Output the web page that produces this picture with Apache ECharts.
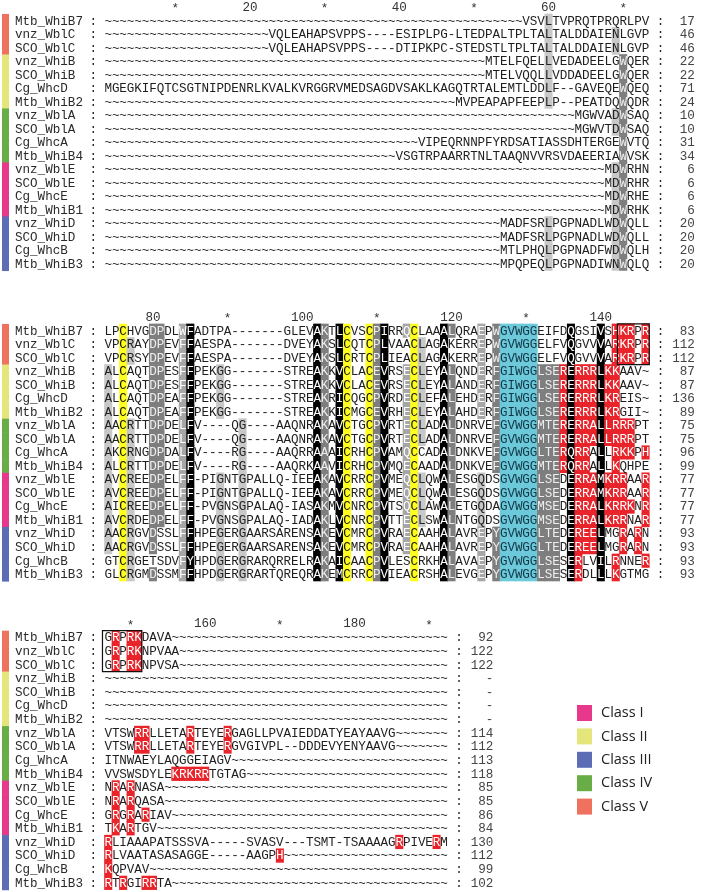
<!DOCTYPE html>
<html><head><meta charset="utf-8">
<script src="https://cdn.jsdelivr.net/npm/echarts@6/dist/echarts.min.js"></script>
<style>html,body{margin:0;padding:0;background:#fff}#c{width:709px;height:892px}</style>
</head><body><div id="c"></div>
<script>
// ---------------- DATA ----------------
const names = ['Mtb_WhiB7','vnz_WblC','SCO_WblC','vnz_WhiB','SCO_WhiB','Cg_WhcD','Mtb_WhiB2','vnz_WblA','SCO_WblA','Cg_WhcA','Mtb_WhiB4','vnz_WblE','SCO_WblE','Cg_WhcE','Mtb_WhiB1','vnz_WhiD','SCO_WhiD','Cg_WhcB','Mtb_WhiB3'];
const rowClass = ['Class V','Class V','Class V','Class II','Class II','Class II','Class II','Class IV','Class IV','Class IV','Class IV','Class I','Class I','Class I','Class I','Class III','Class III','Class III','Class III'];
const classNames = ['Class I','Class II','Class III','Class IV','Class V'];

const t = n => '~'.repeat(n);
const seq1 = [
  t(56)+'VSVLTVPRQTPRQRLPV',
  t(22)+'VQLEAHAPSVPPS----ESIPLPG-LTEDPALTPLTALTALDDAIENLGVP',
  t(22)+'VQLEAHAPSVPPS----DTIPKPC-STEDSTLTPLTALTALDDAIENLGVP',
  t(51)+'MTELFQELLVEDADEELGWQER',
  t(51)+'MTELVQQLLVDDADEELGWQER',
  'MGEGKIFQTCSGTNIPDENRLKVALKVRGGRVMEDSAGDVSAKLKAGQTRTALEMTLDDLF--GAVEQEWQEQ',
  t(47)+'MVPEAPAPFEEPLP--PEATDQWQDR',
  t(63)+'MGWVADWSAQ',
  t(63)+'MGWVTDWSAQ',
  t(42)+'VIPEQRNNPFYRDSATIASSDHTERGEWVTQ',
  t(39)+'VSGTRPAARRTNLTAAQNVVRSVDAEERIAWVSK',
  t(67)+'MDWRHN',
  t(67)+'MDWRHR',
  t(67)+'MDWRHE',
  t(67)+'MDWRHK',
  t(53)+'MADFSRLPGPNADLWDWQLL',
  t(53)+'MADFSRLPGPNADLWDWQLL',
  t(53)+'MTLPHQLPGPNADFWDWQLH',
  t(53)+'MPQPEQLPGPNADIWNWQLQ'
];
const seq2 = [
  'LPCHVGDPDLWFADTPA-------GLEVAKTLCVSCPIRRQCLAAALQRAEPWGVWGGEIFDQGSIVSHKRPR',
  'VPCRAYDPEVFFAESPA-------DVEYAKSLCQTCPLVAACLAGAKERREPWGVWGGELFVQGVVVARKRPR',
  'VPCRSYDPEVFFAESPA-------DVEYAKSLCRTCPLIEACLAGAKERREPWGVWGGELFVQGVVVARKRPR',
  'ALCAQTDPESFFPEKGG-------STREAKKVCLACEVRSECLEYALQNDERFGIWGGLSERERRRLKKAAV~',
  'ALCAQTDPESFFPEKGG-------STREAKKVCLACEVRSECLEYALANDERFGIWGGLSERERRRLKKAAV~',
  'ALCAQTDPEAFFPEKGG-------STREAKRICQGCPVRDECLEFALEHDERFGIWGGLSERERRRLKREIS~',
  'ALCAQTDPEAFFPEKGG-------STREAKKICMGCEVRHECLEYALAHDERFGIWGGLSERERRRLKRGII~',
  'AACRTTDPDELFV----QG----AAQNRAKAVCTGCPVRTECLADALDNRVEFGVWGGMTERERRALLRRRPT',
  'AACRTTDPDELFV----QG----AAQNRAKAVCTGCPVRTECLADALDNRVEFGVWGGMTERERRALLRRRPT',
  'AKCRNGDPDALFV----RG----AAQRRAAAICRHCPVAMQCCADALDNKVEFGVWGGLTERQRRALLRKKPH',
  'ALCRTTDPDELFV----RG----AAQRKAAVICRHCPVMQECAADALDNKVEFGVWGGMTERQRRALLKQHPE',
  'AVCREEDPELFF-PIGNTGPALLQ-IEEAKAVCRRCPVMEQCLQWALESGQDSGVWGGLSEDERRAMKRRAAR',
  'AVCREEDPELFF-PIGNTGPALLQ-IEEAKAVCRRCPVMEQCLQWALESGQDSGVWGGLSEDERRAMKRRAAR',
  'AICREEDPELFF-PVGNSGPALAQ-IASAKMVCNRCPVTSQCLAWALETGQDAGVWGGMSEDERRALKRRKNR',
  'AVCRDEDPELFF-PVGNSGPALAQ-IADAKLVCNRCPVTTECLSWALNTGQDSGVWGGMSEDERRALKRRNAR',
  'AACRGVDSSLFFHPEGERGAARSARENSAKEVCMRCPVRAECAAHALAVREPYGVWGGLTEDEREELMGRARN',
  'AACRGVDSSLFFHPEGERGAARSARENSAKEVCMRCPVRAECAAHALAVREPYGVWGGLTEDEREELMGRARN',
  'GTCRGETSDVFYHPDGERGRARQRRELRAKAICAACPVLESCRKHALAVAEPYGVWGGLSESERLVILRNNER',
  'GLCRGMDSSMFFHPDGERGRARTQREQRAKEMCRRCPVIEACRSHALEVGEPYGVWGGLSESERDLLLKGTMG'
];
const seq3 = [
  'GRPRKDAVA'+t(37),
  'GRPRKNPVAA'+t(36),
  'GRPRKNPVSA'+t(36),
  t(46), t(46), t(46), t(46),
  'VTSWRRLLETARTEYERGAGLLPVAIEDDATYEAYAAVG'+t(7),
  'VTSWRRLLETARTEYERGVGIVPL--DDDEVYENYAAVG'+t(7),
  'ITNWAEYLAQGGEIAGV'+t(29),
  'VVSWSDYLEKRKRRTGTAG'+t(27),
  'NRARNASA'+t(38),
  'NRARQASA'+t(38),
  'GRGRARIAV'+t(37),
  'TKARTGV'+t(39),
  'RLIAAAPATSSSVA-----SVASV---TSMT-TSAAAAGRPIVERM',
  'RLVAATASASAGGE-----AAGPH'+t(22),
  'KQPVAV'+t(40),
  'RTRGIRRTA'+t(37)
];
const count1 = [17,46,46,22,22,71,24,10,10,31,34,6,6,6,6,20,20,20,20];
const count2 = [83,112,112,87,87,136,89,75,75,96,99,77,77,77,77,93,93,93,93];
const count3 = ['92','122','122','-','-','-','-','114','112','113','118','85','85','86','84','130','112','99','102'];

const rulerPos1 = [10,20,30,40,50,60,70];
const rulerLab1 = ['*','20','*','40','*','60','*'];
const rulerPos2 = [80,90,100,110,120,130,140];
const rulerLab2 = ['80','*','100','*','120','*','140'];
const rulerPos3 = [150,160,170,180,190];
const rulerLab3 = ['*','160','*','180','*'];

// conservation shading: [level, columns (0-based in block), rows (1-based)]
// levels: y = cysteine, k = black, d = dark grey, g = mid grey, l = light grey, c = motif, r = basic
const shade1 = [
  ['l','59','1-7,16-19'],
  ['l','68','2-3,8-9,12-19'],
  ['d','69','4-19']
];
const shade2 = [
  ['l','0','4-17'],
  ['y','2','1-19'],
  ['l','3','2-3,8-19'],
  ['d','6','1-17,19'],
  ['d','7','1-15'],
  ['g','10','1-19'],
  ['k','11','1-19'],
  ['l','15','4-7,12-19'],
  ['l','18','8-19'],
  ['k','28','1-19'],
  ['d','29','1-19'],
  ['k','31','1-19'],
  ['y','32','1-19'],
  ['y','35','1-19'],
  ['d','36','1-19'],
  ['k','37','1-19'],
  ['g','40','1,4-17'],
  ['y','41','1-19'],
  ['l','42','2-9,12-15'],
  ['k','45','1-19'],
  ['d','46','1,4-19'],
  ['g','50','1-7,16-19'],
  ['l','50','12-15'],
  ['d','52','1-11,16-19'],
  ['c','53-57','1-19'],
  ['d','58-60','4-19'],
  ['r','68-70','1-3'],
  ['r','72','1-3'],
  ['r','61','4-11'],
  ['r','63-65','4-9,12-17'],
  ['r','67-68','4-7'],
  ['r','67-70','8-9'],
  ['r','63-64','10-11'],
  ['r','68-70','10'],
  ['r','72','10'],
  ['r','68','11'],
  ['r','67-69','12-13,15'],
  ['r','67-70','14'],
  ['r','72','12-15'],
  ['r','69','16-17'],
  ['r','71','16-17'],
  ['r','63','18-19'],
  ['r','68','18-19'],
  ['r','72','18'],
  ['k','62','1-19'],
  ['k','66','1-19']
];
const shade3 = [
  ['r','1','1-3'], ['r','3-4','1-3'],
  ['r','4-5','8-9'], ['r','11','8-9'], ['r','16','8-9'],
  ['r','9-13','11'],
  ['r','1','12-15'], ['r','3','12-15'], ['r','5','14'],
  ['r','0','16-19'], ['r','39','16'], ['r','44','16'], ['r','23','17'],
  ['r','2','19'], ['r','5-6','19']
];
const boxes2 = [['69-72','1-3']];
const boxes3 = [['0-4','1-3']];

// ---------------- STYLE ----------------
const COLW = 7.59;
const SEQ_LEFT = 106;
const FONT = '12.6px "Liberation Mono", "DejaVu Sans Mono", monospace';
const classColor = {'Class I':'#E8388C','Class II':'#E4E67C','Class III':'#5C6CB5','Class IV':'#69AD46','Class V':'#EF725F'};
const shadeStyle = {
  y:{bg:'#FFFF1E',fg:'#111'}, k:{bg:'#000000',fg:'#ffffff'}, d:{bg:'#7E7E7E',fg:'#eeeeee'},
  g:{bg:'#A6A6A6',fg:'#ffffff'}, l:{bg:'#C8C8C8',fg:'#222'}, c:{bg:'#6CC9DA',fg:'#123848'},
  r:{bg:'#E8242A',fg:'#ffffff'}
};

function parseList(s){
  const out=[];
  String(s).split(',').forEach(part=>{
    const [a,b] = part.split('-').map(Number);
    if (b===undefined) out.push(a); else for(let i=a;i<=b;i++) out.push(i);
  });
  return out;
}

const blocks = [
  {seq:seq1, shade:shade1, counts:count1, rp:rulerPos1, rl:rulerLab1, boxes:[], start:1, row1:20.7, rowH:13.5},
  {seq:seq2, shade:shade2, counts:count2, rp:rulerPos2, rl:rulerLab2, boxes:boxes2, start:74, row1:330.7, rowH:13.53},
  {seq:seq3, shade:shade3, counts:count3, rp:rulerPos3, rl:rulerLab3, boxes:boxes3, start:147, row1:637.5, rowH:13.63}
];

const grids=[], xAxes=[], yAxes=[], series=[];
blocks.forEach((b,bi)=>{
  grids.push({left: SEQ_LEFT - 12*COLW, top: b.row1 - b.rowH/2, width: 93*COLW, height: 19*b.rowH});
  xAxes.push({type:'value', gridIndex:bi, min:-12.5, max:80.5, show:false});
  yAxes.push({type:'value', gridIndex:bi, min:0.5, max:19.5, inverse:true, show:false});
  const map = {};
  b.shade.forEach(([lv,cols,rows])=>{
    parseList(rows).forEach(r=>parseList(cols).forEach(c=>{ map[r+'_'+c]=lv; }));
  });
  const items=[];
  b.seq.forEach((s,ri)=>{
    const r=ri+1;
    items.push({x:-12.5, y:r, kind:'bar', cls:rowClass[ri]});
    items.push({x:-12.5, y:r, kind:'name', text:names[ri]});
    items.push({x:-2, y:r, kind:'text', text:':'});
    for(let c=0;c<s.length;c++){
      items.push({x:c, y:r, kind:'cell', text:s[c], lv:map[r+'_'+c]});
    }
    items.push({x:s.length+1, y:r, kind:'text', text:':'});
    items.push({x:s.length+5.6, y:r, kind:'count', text:String(b.counts[ri])});
  });
  b.rp.forEach((p,i)=>{
    items.push({x:p-b.start, y:0, kind:'ruler', text:b.rl[i]});
  });
  b.boxes.forEach(([cols,rows])=>{
    const cl=parseList(cols), rl=parseList(rows);
    items.push({x:cl[0]-0.5, y:rl[0]-0.5, x2:cl[cl.length-1]+0.5, y2:rl[rl.length-1]+0.5, kind:'box'});
  });
  series.push({
    type:'custom', xAxisIndex:bi, yAxisIndex:bi, silent:true, clip:false, z: 2,
    data: items.map(it=>[it.x,it.y]),
    renderItem:(params, api)=>{
      const it = items[params.dataIndex];
      const p = api.coord([api.value(0), api.value(1)]);
      const sz = api.size([1,1]);
      if (it.kind==='bar'){
        return {type:'rect', shape:{x:2, y:p[1]-sz[1]/2, width:7, height:sz[1]+0.6}, style:{fill:classColor[it.cls]}};
      }
      if (it.kind==='box'){
        const p2 = api.coord([it.x2, it.y2]);
        return {type:'rect', z2:10, shape:{x:p[0]-2, y:p[1], width:p2[0]-p[0]+2, height:p2[1]-p[1]}, style:{fill:null, stroke:'#111', lineWidth:1.2}};
      }
      if (it.kind==='name'){
        return {type:'text', x:p[0], y:p[1]+0.5, style:{text:it.text, font:FONT, fill:'#2a2a2a', align:'left', verticalAlign:'middle'}};
      }
      if (it.kind==='text'){
        return {type:'text', x:p[0], y:p[1]+0.5, style:{text:it.text, font:FONT, fill:'#2a2a2a', align:'center', verticalAlign:'middle'}};
      }
      if (it.kind==='count'){
        return {type:'text', x:p[0], y:p[1]+0.5, style:{text:it.text, font:FONT, fill:'#444', align:'right', verticalAlign:'middle'}};
      }
      if (it.kind==='ruler'){
        return {type:'text', x:p[0], y:p[1]+(it.text==='*'?1.5:0), style:{text:it.text, font:FONT, fill:'#333', align:'center', verticalAlign:'middle'}};
      }
      const st = it.lv ? shadeStyle[it.lv] : null;
      const children=[];
      if (st){
        children.push({type:'rect', shape:{x:p[0]-sz[0]/2-0.3, y:p[1]-sz[1]/2-0.3, width:sz[0]+0.6, height:sz[1]+0.6}, style:{fill:st.bg}});
      }
      children.push({type:'text', x:p[0], y:p[1]+0.5, z2:5, style:{text:it.text, font:FONT, fill: st?st.fg:'#1e1e1e', align:'center', verticalAlign:'middle'}});
      return {type:'group', children};
    }
  });
});

classNames.forEach(cn=>{
  series.push({type:'line', name:cn, data:[], color:classColor[cn], itemStyle:{color:classColor[cn]}, lineStyle:{color:classColor[cn]}, xAxisIndex:0, yAxisIndex:0});
});

const chart = echarts.init(document.getElementById('c'), null, {renderer:'canvas'});
chart.setOption({
  animation:false,
  backgroundColor:'#ffffff',
  grid:grids, xAxis:xAxes, yAxis:yAxes,
  legend:{data:classNames, orient:'vertical', left:572, top:700, icon:'rect', itemWidth:15, itemHeight:16, itemGap:7.4,
    selectedMode:false,
    textStyle:{fontFamily:'"Open Sans", Lato, sans-serif', fontSize:14.5, color:'#222', padding:[0,0,0,4]}},
  series
});
</script>
</body></html>
